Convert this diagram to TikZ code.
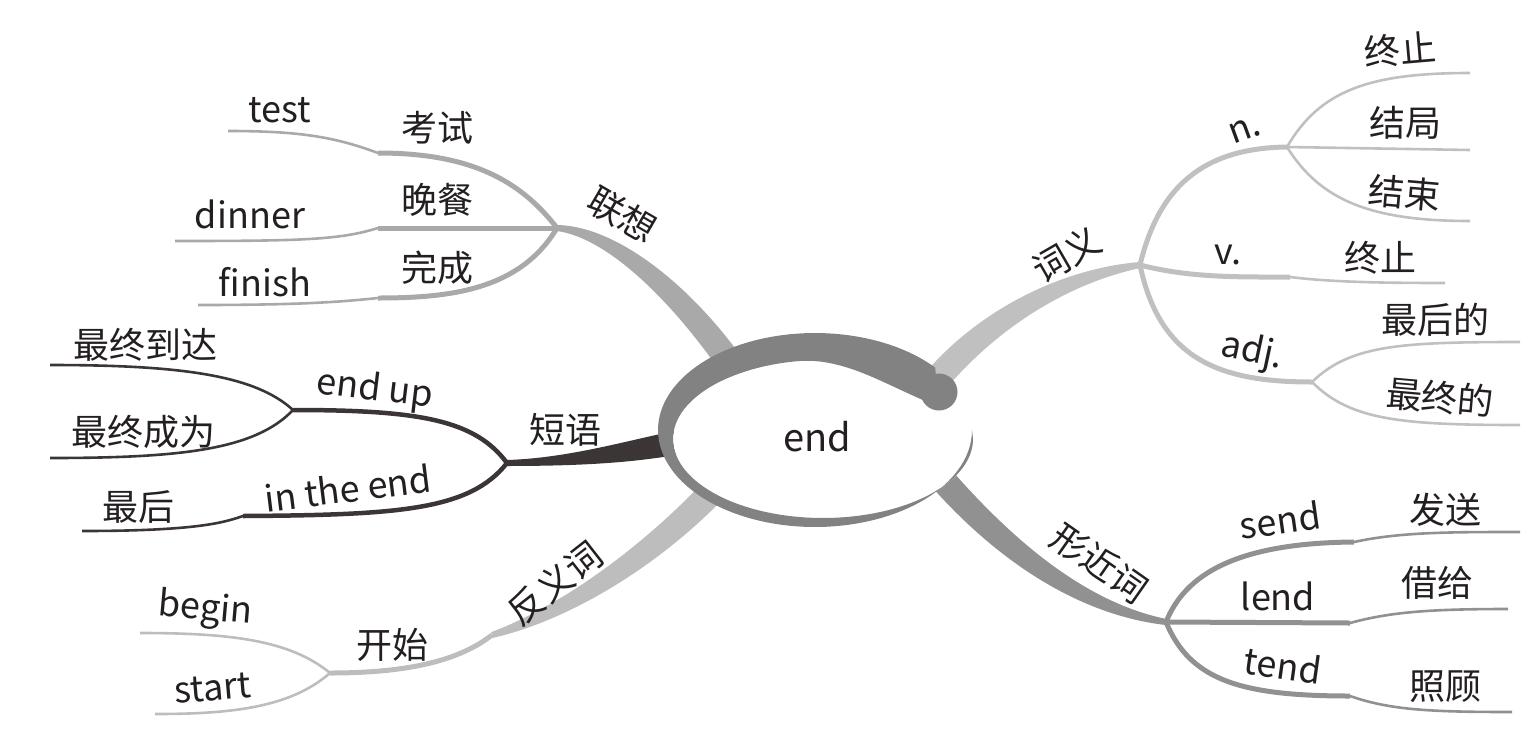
\documentclass[tikz,border=0pt]{standalone}
\usepackage{fontspec}
\setmainfont{Noto Sans CJK SC}
\usetikzlibrary{calc}
\definecolor{lxcol}{HTML}{A9A9A9}
\definecolor{dycol}{HTML}{3B3536}
\definecolor{fycol}{HTML}{BDBDBD}
\definecolor{cycol}{HTML}{C0C0C0}
\definecolor{xjcol}{HTML}{919191}
\definecolor{ringcol}{HTML}{828282}
\definecolor{txtcol}{HTML}{231F20}
% #1 colour, #2 hub A, #3 C1, #4 C2, #5 end B, #6 half width at A, #7 at C1, #8 at B
\newcommand\mybranch[8]{%
  \fill[#1] ($(#2)!#6!-90:(#3)$) .. controls ($(#3)!#7!-90:(#4)$) and ($(#4)!#8!-90:(#5)$) .. ($(#5)!#8!90:(#4)$)
     -- ($(#5)!#8!-90:(#4)$) .. controls ($(#4)!#8!90:(#5)$) and ($(#3)!#7!90:(#4)$) .. ($(#2)!#6!90:(#3)$) -- cycle;
}
\begin{document}
\begin{tikzpicture}[x=1pt,y=-1pt,
  lbl/.style={font=\fontsize{36}{40}\selectfont, text=txtcol, inner sep=0pt},
  seg1/.style={line width=5pt},
  seg2/.style={line width=2.6pt}]
\useasboundingbox (0,0) rectangle (1536,750);
% hubs and main-branch points
\coordinate (lxA) at (557,228); \coordinate (lxC1) at (615,232); \coordinate (lxC2) at (690,300); \coordinate (lxB) at (745,385);
\coordinate (dyA) at (507,463); \coordinate (dyC1) at (570,462); \coordinate (dyC2) at (630,452); \coordinate (dyB) at (685,441);
\coordinate (fyA) at (492,635); \coordinate (fyC1) at (560,615); \coordinate (fyC2) at (650,560); \coordinate (fyB) at (725,478);
\coordinate (cyA) at (1140,265); \coordinate (cyC1) at (1070,275); \coordinate (cyC2) at (990,315); \coordinate (cyB) at (932,385);
\coordinate (xjA) at (1166,622); \coordinate (xjC1) at (1090,610); \coordinate (xjC2) at (1010,560); \coordinate (xjB) at (930,465);
% secondary points
\coordinate (lxk1) at (378,153); \coordinate (lxe1) at (228,131);
\coordinate (lxk2) at (378,228); \coordinate (lxe2) at (175,241);
\coordinate (lxk3) at (378,298); \coordinate (lxe3) at (198,305);
\coordinate (euH) at (293,410); \coordinate (eue1) at (50,365); \coordinate (eue2) at (50,458);
\coordinate (iek) at (243,516); \coordinate (iee) at (82,531);
\coordinate (ksH) at (330,673); \coordinate (kse1) at (140,633); \coordinate (kse2) at (155,714);
\coordinate (nH) at (1287,147); \coordinate (ne1) at (1470,73); \coordinate (ne2) at (1470,150); \coordinate (ne3) at (1470,221);
\coordinate (vk) at (1290,277); \coordinate (ve) at (1445,283);
\coordinate (adjH) at (1312,382); \coordinate (adje1) at (1520,342); \coordinate (adje2) at (1520,425);
\coordinate (sdk) at (1354,542); \coordinate (sde) at (1520,532);
\coordinate (ldk) at (1350,623); \coordinate (lde) at (1508,609);
\coordinate (tdk) at (1350,696); \coordinate (tde) at (1512,712);

% main branches (tapered)
\mybranch{lxcol}{lxA}{lxC1}{lxC2}{lxB}{3pt}{8pt}{13pt}
\mybranch{dycol}{dyA}{dyC1}{dyC2}{dyB}{3pt}{4pt}{12pt}
\mybranch{fycol}{fyA}{fyC1}{fyC2}{fyB}{3pt}{8pt}{13pt}
\mybranch{cycol}{cyA}{cyC1}{cyC2}{cyB}{3pt}{8pt}{13pt}
\mybranch{xjcol}{xjA}{xjC1}{xjC2}{xjB}{3pt}{7pt}{13pt}

% 联想
\draw[lxcol,seg1] (lxA) .. controls (520,180) and (470,153) .. (lxk1);
\draw[lxcol,seg2] (lxk1) .. controls (335,137) and (300,131) .. (lxe1);
\draw[lxcol,seg1] (lxA) -- (lxk2);
\draw[lxcol,seg2] (lxk2) .. controls (340,240) and (300,241) .. (lxe2);
\draw[lxcol,seg1] (lxA) .. controls (520,290) and (450,298) .. (lxk3);
\draw[lxcol,seg2] (lxk3) .. controls (340,302) and (300,305) .. (lxe3);
% 短语
\draw[dycol,line width=4.5pt] (dyA) .. controls (475,420) and (420,410) .. (euH);
\draw[dycol,seg2] (euH) .. controls (255,375) and (180,365) .. (eue1);
\draw[dycol,seg2] (euH) .. controls (255,450) and (180,458) .. (eue2);
\draw[dycol,line width=4.5pt] (dyA) .. controls (470,510) and (400,515) .. (iek);
\draw[dycol,seg2] (iek) .. controls (225,522) and (200,531) .. (iee);
% 反义词
\draw[fycol,seg1] (fyA) .. controls (460,660) and (410,673) .. (ksH);
\draw[fycol,seg2] (ksH) .. controls (290,640) and (230,633) .. (kse1);
\draw[fycol,seg2] (ksH) .. controls (290,708) and (230,714) .. (kse2);
% 词义
\draw[cycol,seg1] (cyA) .. controls (1158,190) and (1200,148) .. (nH);
\draw[cycol,seg2] (nH) .. controls (1320,90) and (1370,73) .. (ne1);
\draw[cycol,seg2] (nH) -- (ne2);
\draw[cycol,seg2] (nH) .. controls (1320,200) and (1370,221) .. (ne3);
\draw[cycol,seg1] (cyA) .. controls (1190,278) and (1240,277) .. (vk);
\draw[cycol,seg2] (vk) .. controls (1330,282) and (1380,283) .. (ve);
\draw[cycol,seg1] (cyA) .. controls (1160,360) and (1220,382) .. (adjH);
\draw[cycol,seg2] (adjH) .. controls (1350,345) and (1400,342) .. (adje1);
\draw[cycol,seg2] (adjH) .. controls (1350,420) and (1400,425) .. (adje2);
% 形近词
\draw[xjcol,seg1] (xjA) .. controls (1185,575) and (1235,543) .. (sdk);
\draw[xjcol,seg2] (sdk) .. controls (1400,532) and (1450,532) .. (sde);
\draw[xjcol,seg1] (xjA) -- (ldk);
\draw[xjcol,seg2] (ldk) .. controls (1390,612) and (1430,609) .. (lde);
\draw[xjcol,seg1] (xjA) .. controls (1190,680) and (1240,696) .. (tdk);
\draw[xjcol,seg2] (tdk) .. controls (1390,710) and (1430,712) .. (tde);

% central ring (spiral band)
\fill[white] (823,439) ellipse[x radius=150pt, y radius=79pt];
\fill[ringcol] plot[domain=0:320, samples=120] ({815+157*cos(\x)},{430+97*sin(\x)})
   -- plot[domain=320:0, samples=120] ({823+150*cos(\x)},{439+79*sin(\x)+20*(\x>260)*(1-cos(180*min(1,(\x-260)/50)))/2}) -- cycle;
\fill[ringcol] (939,392) circle[radius=18.5pt];
\node[lbl,font=\fontsize{38}{42}\selectfont] (center) at (817,437) {end};

% labels
\node[lbl] (test) at (280,110) {test};
\node[lbl] (kaoshi) at (437,128) {考试};
\node[lbl] (dinner) at (250,214) {dinner};
\node[lbl] (wancan) at (437,200) {晚餐};
\node[lbl] (finish) at (265,282) {finish};
\node[lbl] (wancheng) at (437,268) {完成};
\node[lbl,rotate=-30] (lianxiang) at (622,215) {联想};
\node[lbl] (zzdd) at (145,345) {最终到达};
\node[lbl] (zzcw) at (143,432) {最终成为};
\node[lbl] (zuihou) at (138,507) {最后};
\node[lbl,rotate=-7] (endup) at (375,390) {end up};
\node[lbl,rotate=7] (intheend) at (348,488) {in the end};
\node[lbl] (duanyu) at (565,430) {短语};
\node[lbl] (kaishi) at (392,645) {开始};
\node[lbl,rotate=38] (fanyici) at (555,583) {反义词};
\node[lbl,rotate=-5] (begin) at (205,610) {begin};
\node[lbl,rotate=5] (start) at (213,688) {start};
\node[lbl,rotate=30] (ciyi) at (1067,255) {词义};
\node[lbl,rotate=20] (n) at (1245,130) {n.};
\node[lbl,rotate=5] (zhongzhi1) at (1400,50) {终止};
\node[lbl] (jieju) at (1405,123) {结局};
\node[lbl,rotate=-5] (jieshu) at (1405,193) {结束};
\node[lbl] (v) at (1228,255) {v.};
\node[lbl] (zhongzhi2) at (1380,258) {终止};
\node[lbl,rotate=-12] (adj) at (1252,352) {adj.};
\node[lbl] (zuihoude) at (1435,320) {最后的};
\node[lbl,rotate=-5] (zuizhongde) at (1440,397) {最终的};
\node[lbl,rotate=-35] (xingjinci) at (1100,563) {形近词};
\node[lbl,rotate=8] (send) at (1280,520) {send};
\node[lbl] (lend) at (1278,596) {lend};
\node[lbl,rotate=-8] (tend) at (1283,665) {tend};
\node[lbl] (fasong) at (1445,510) {发送};
\node[lbl] (jiegei) at (1437,583) {借给};
\node[lbl] (zhaogu) at (1445,687) {照顾};
\end{tikzpicture}
\end{document}
